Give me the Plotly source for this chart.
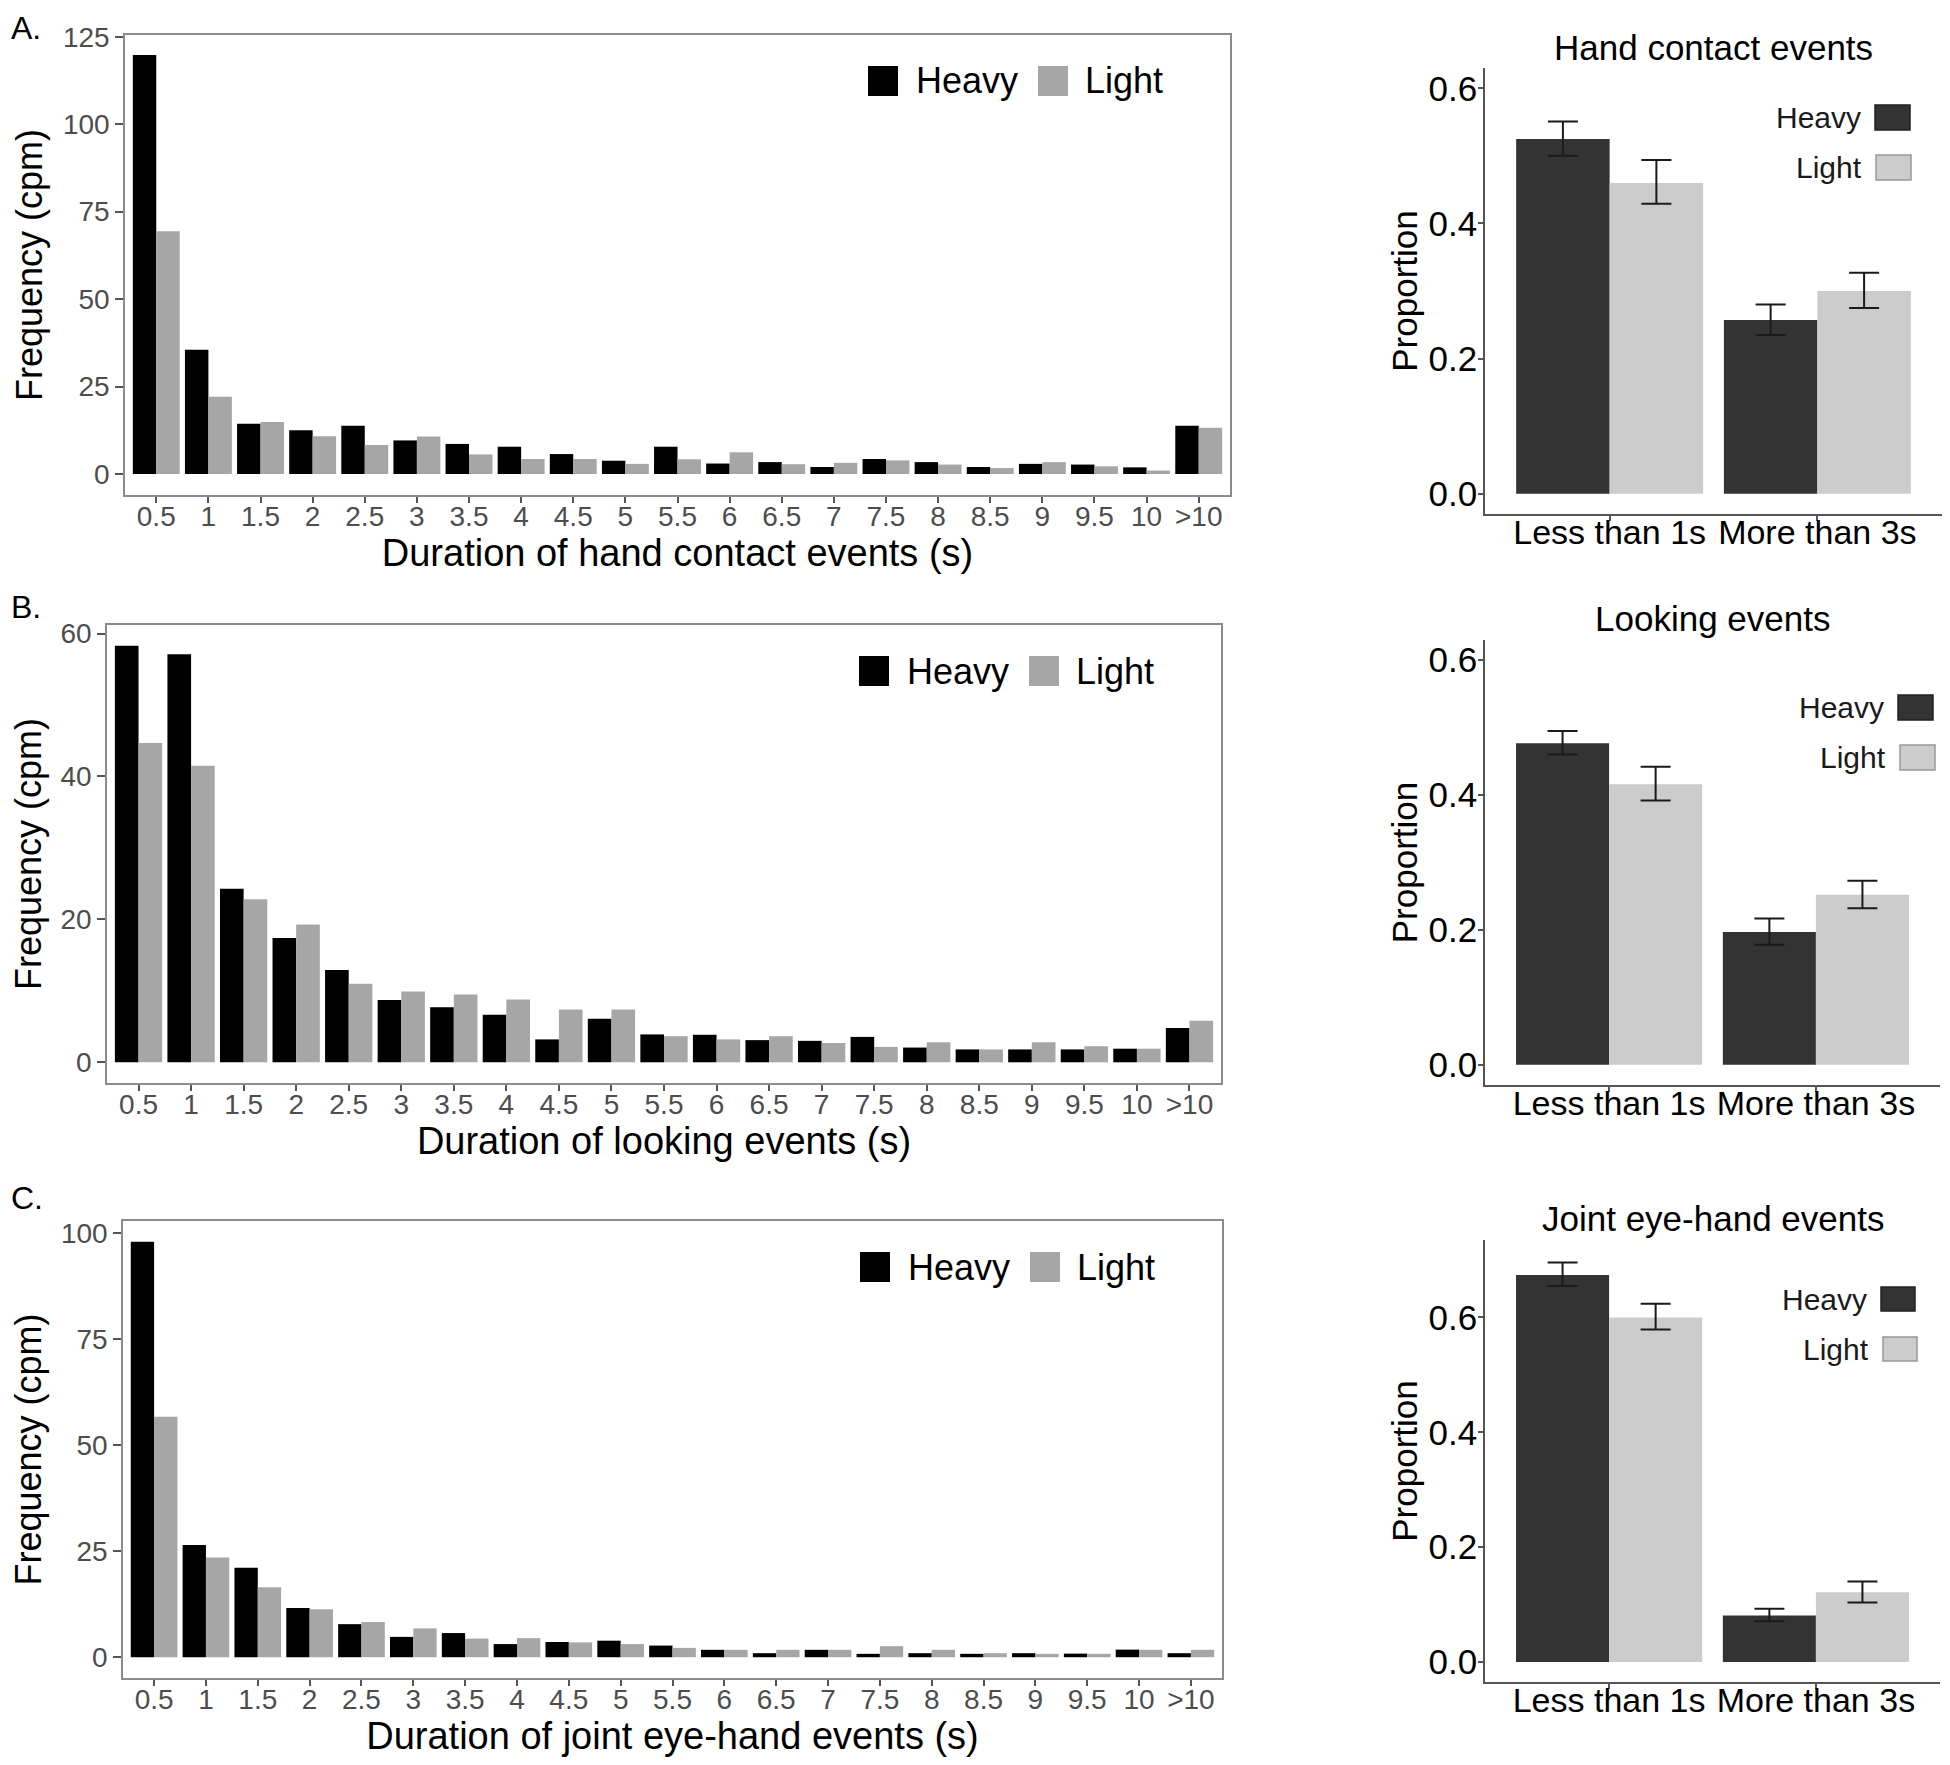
import plotly.graph_objects as go

OFF = 8                      # page body margin of the browser
W, H = 1950 - OFF, 1765 - OFF
FONT = "Liberation Sans, Arial, sans-serif"

# ---------------- data ----------------
bins = ["0.5", "1", "1.5", "2", "2.5", "3", "3.5", "4", "4.5", "5", "5.5",
        "6", "6.5", "7", "7.5", "8", "8.5", "9", "9.5", "10", ">10"]

hand_heavy = [119.8, 35.5, 14.4, 12.5, 13.8, 9.6, 8.6, 7.8, 5.7, 3.8, 7.8,
              3.0, 3.4, 2.0, 4.3, 3.4, 2.0, 2.9, 2.7, 1.9, 13.8]
hand_light = [69.4, 22.1, 14.9, 10.8, 8.3, 10.7, 5.6, 4.3, 4.3, 2.9, 4.2,
              6.2, 2.8, 3.2, 3.9, 2.7, 1.7, 3.4, 2.2, 1.0, 13.2]

look_heavy = [58.3, 57.1, 24.3, 17.4, 12.9, 8.7, 7.7, 6.65, 3.2, 6.1, 3.9,
              3.85, 3.1, 3.0, 3.55, 2.06, 1.8, 1.8, 1.8, 1.9, 4.8]
look_light = [44.7, 41.5, 22.8, 19.3, 11.0, 9.9, 9.5, 8.8, 7.4, 7.4, 3.65,
              3.2, 3.65, 2.7, 2.15, 2.8, 1.8, 2.8, 2.25, 1.9, 5.8]

joint_heavy = [98.0, 26.5, 21.1, 11.6, 7.8, 4.8, 5.7, 3.1, 3.6, 3.9, 2.75,
               1.75, 0.95, 1.75, 0.8, 0.95, 0.8, 0.95, 0.85, 1.8, 0.95]
joint_light = [56.7, 23.5, 16.5, 11.3, 8.3, 6.8, 4.4, 4.5, 3.5, 3.1, 2.2,
               1.75, 1.75, 1.75, 2.6, 1.75, 0.95, 0.8, 0.8, 1.75, 1.75]

groups = ["Less than 1s", "More than 3s"]

hand_p_heavy = [0.525, 0.257]
hand_p_heavy_hi = [0.551, 0.280]
hand_p_heavy_lo = [0.500, 0.235]
hand_p_light = [0.460, 0.300]
hand_p_light_hi = [0.494, 0.327]
hand_p_light_lo = [0.429, 0.275]

look_p_heavy = [0.477, 0.197]
look_p_heavy_hi = [0.495, 0.217]
look_p_heavy_lo = [0.460, 0.178]
look_p_light = [0.416, 0.252]
look_p_light_hi = [0.442, 0.273]
look_p_light_lo = [0.392, 0.232]

joint_p_heavy = [0.674, 0.081]
joint_p_heavy_hi = [0.696, 0.0925]
joint_p_heavy_lo = [0.655, 0.071]
joint_p_light = [0.600, 0.1215]
joint_p_light_hi = [0.624, 0.140]
joint_p_light_lo = [0.579, 0.1035]

# ---------------- helpers (page pixel -> paper fraction) ----------------
def px(x):
    return (x - OFF) / W

def py(y):
    return 1 - (y - OFF) / H

HIST_BLACK = "#000000"
HIST_GREY = "#A6A6A6"
PROP_DARK = "#333333"
PROP_LIGHT = "#CCCCCC"

fig = go.Figure()
shapes = []
annotations = []

# (heavy, light, x title, y ticks, y range, box l,t,r,b, panel label, label y, label anchor)
hist_panels = [
    (hand_heavy, hand_light, "Duration of hand contact events (s)",
     [0, 25, 50, 75, 100, 125], [-6.0, 125.5], (125, 35, 1230, 495), "A.", 8, "top"),
    (look_heavy, look_light, "Duration of looking events (s)",
     [0, 20, 40, 60], [-2.9, 61.2], (107, 625, 1221, 1083), "B.", 607, "middle"),
    (joint_heavy, joint_light, "Duration of joint eye-hand events (s)",
     [0, 25, 50, 75, 100], [-4.9, 102.9], (123, 1221, 1222, 1678), "C.", 1198, "middle"),
]

prop_panels = [
    (hand_p_heavy, hand_p_heavy_hi, hand_p_heavy_lo,
     hand_p_light, hand_p_light_hi, hand_p_light_lo,
     "Hand contact events", [0, 0.2, 0.4, 0.6], [-0.03, 0.63],
     (1485, 68, 1942, 514), 48,
     ((1875, 105, 1910, 130), (1876, 155, 1911, 180))),
    (look_p_heavy, look_p_heavy_hi, look_p_heavy_lo,
     look_p_light, look_p_light_hi, look_p_light_lo,
     "Looking events", [0, 0.2, 0.4, 0.6], [-0.03, 0.63],
     (1485, 640, 1940, 1085), 618,
     ((1898, 695, 1933, 720), (1900, 745, 1935, 770))),
    (joint_p_heavy, joint_p_heavy_hi, joint_p_heavy_lo,
     joint_p_light, joint_p_light_hi, joint_p_light_lo,
     "Joint eye-hand events", [0, 0.2, 0.4, 0.6], [-0.035, 0.735],
     (1485, 1240, 1940, 1682), 1218,
     ((1881, 1287, 1915, 1311), (1883, 1337, 1917, 1361))),
]

layout_axes = {}
ax = 0
for (hv, lt, xtitle, yticks, yrange, box, label, label_y, label_anchor) in hist_panels:
    ax += 1
    xs = "" if ax == 1 else str(ax)
    l, t, r, b = box
    fig.add_trace(go.Bar(x=bins, y=hv, name="Heavy", marker_color=HIST_BLACK,
                         marker_line_width=0, xaxis="x" + xs, yaxis="y" + xs,
                         showlegend=False))
    fig.add_trace(go.Bar(x=bins, y=lt, name="Light", marker_color=HIST_GREY,
                         marker_line_width=0, xaxis="x" + xs, yaxis="y" + xs,
                         showlegend=False))
    layout_axes["xaxis" + xs] = dict(
        domain=[px(l), px(r)], anchor="y" + xs, type="category",
        categoryorder="array", categoryarray=bins, range=[-0.6, 20.6],
        automargin=False, tickangle=0, ticklabelstandoff=-10,
        showline=True, mirror=True, linecolor="#8C8C8C", linewidth=1.5,
        ticks="outside", ticklen=6, tickwidth=1.5, tickcolor="#555555",
        tickfont=dict(family=FONT, size=28, color="#4D4D4D"),
        showgrid=False, zeroline=False,
        title=dict(text=xtitle, standoff=0,
                   font=dict(family=FONT, size=38, color="#000000")),
    )
    layout_axes["yaxis" + xs] = dict(
        domain=[py(b), py(t)], anchor="x" + xs, range=yrange,
        tickmode="array", tickvals=yticks, automargin=False,
        showline=True, mirror=True, linecolor="#8C8C8C", linewidth=1.5,
        ticks="outside", ticklen=8, tickwidth=1.5, tickcolor="#555555",
        tickfont=dict(family=FONT, size=28, color="#4D4D4D"),
        showgrid=False, zeroline=False,
        title=dict(text="Frequency (cpm)", standoff=9,
                   font=dict(family=FONT, size=36, color="#000000")),
    )
    sq1 = (r - 362, t + 31, r - 332, t + 61)
    sq2 = (r - 192, t + 31, r - 162, t + 61)
    for (sq, col) in ((sq1, HIST_BLACK), (sq2, HIST_GREY)):
        shapes.append(dict(type="rect", xref="paper", yref="paper",
                           x0=px(sq[0]), x1=px(sq[2]), y0=py(sq[3]), y1=py(sq[1]),
                           fillcolor=col, line=dict(width=0)))
    annotations.append(dict(text="Heavy", xref="paper", yref="paper",
                            x=px(r - 316), y=py(t + 46), xanchor="left", yanchor="middle",
                            showarrow=False, font=dict(family=FONT, size=36, color="#000000")))
    annotations.append(dict(text="Light", xref="paper", yref="paper",
                            x=px(r - 147), y=py(t + 46), xanchor="left", yanchor="middle",
                            showarrow=False, font=dict(family=FONT, size=36, color="#000000")))
    annotations.append(dict(text=label, xref="paper", yref="paper",
                            x=px(9), y=py(label_y), xanchor="left", yanchor=label_anchor,
                            showarrow=False, font=dict(family=FONT, size=32, color="#000000")))

for (hv, hv_hi, hv_lo, lt, lt_hi, lt_lo, title, yticks, yrange, box, title_y, leg) in prop_panels:
    ax += 1
    xs = str(ax)
    l, t, r, b = box
    for (vals, hi, lo, name, col) in ((hv, hv_hi, hv_lo, "Heavy", PROP_DARK),
                                      (lt, lt_hi, lt_lo, "Light", PROP_LIGHT)):
        fig.add_trace(go.Bar(
            x=groups, y=vals, name=name, marker_color=col, marker_line_width=0,
            xaxis="x" + xs, yaxis="y" + xs, showlegend=False,
            error_y=dict(type="data", symmetric=False,
                         array=[h - v for h, v in zip(hi, vals)],
                         arrayminus=[v - w for v, w in zip(vals, lo)],
                         color="#1A1A1A", thickness=2, width=15),
        ))
    layout_axes["xaxis" + xs] = dict(
        domain=[px(l), px(r)], anchor="y" + xs, type="category",
        range=[-0.6, 1.6], automargin=False, tickangle=0, ticklabelstandoff=-18,
        showline=True, linecolor="#555555", linewidth=1.5,
        ticks="outside", ticklen=5, tickwidth=1.5, tickcolor="#555555",
        tickfont=dict(family=FONT, size=34, color="#000000"),
        showgrid=False, zeroline=False,
    )
    layout_axes["yaxis" + xs] = dict(
        domain=[py(b), py(t)], anchor="x" + xs, range=yrange,
        tickmode="array", tickvals=yticks, tickformat=".1f", automargin=False,
        ticklabelstandoff=-6,
        showline=True, linecolor="#555555", linewidth=1.5,
        ticks="outside", ticklen=5, tickwidth=1.5, tickcolor="#555555",
        tickfont=dict(family=FONT, size=35, color="#000000"),
        showgrid=False, zeroline=False,
        title=dict(text="Proportion", standoff=0,
                   font=dict(family=FONT, size=35, color="#000000")),
    )
    annotations.append(dict(text=title, xref="paper", yref="paper",
                            x=px((l + r) / 2), y=py(title_y), xanchor="center",
                            yanchor="middle", showarrow=False,
                            font=dict(family=FONT, size=35, color="#000000")))
    (h_box, l_box) = leg
    for (bx, col, lcol, name) in ((h_box, PROP_DARK, "#222222", "Heavy"),
                                  (l_box, PROP_LIGHT, "#999999", "Light")):
        shapes.append(dict(type="rect", xref="paper", yref="paper",
                           x0=px(bx[0]), x1=px(bx[2]), y0=py(bx[3]), y1=py(bx[1]),
                           fillcolor=col, line=dict(color=lcol, width=1.5)))
        annotations.append(dict(text=name, xref="paper", yref="paper",
                                x=px(bx[0] - 12), y=py((bx[1] + bx[3]) / 2),
                                xanchor="right", yanchor="middle", showarrow=False,
                                font=dict(family=FONT, size=30, color="#1A1A1A")))

fig.update_layout(
    width=W, height=H,
    margin=dict(l=0, r=0, t=0, b=0, autoexpand=False),
    paper_bgcolor="white", plot_bgcolor="white",
    barmode="group", bargap=0.1, bargroupgap=0,
    shapes=shapes, annotations=annotations,
    font=dict(family=FONT),
    **layout_axes,
)

fig.write_html("out.html")
